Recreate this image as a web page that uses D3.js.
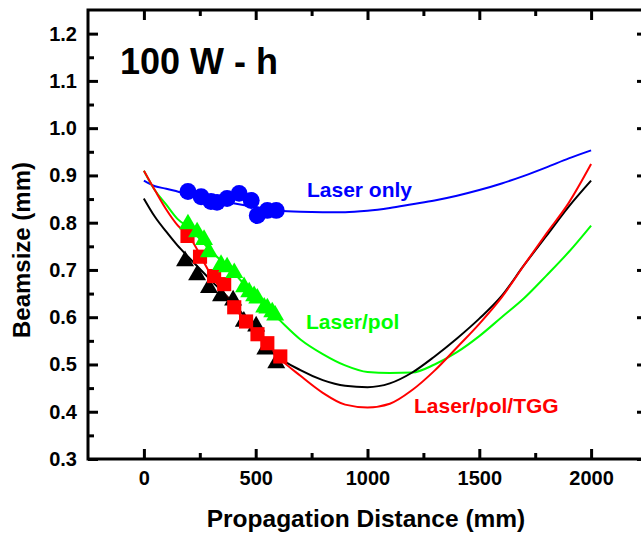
<!DOCTYPE html>
<html>
<head>
<meta charset="utf-8">
<script src="https://cdn.jsdelivr.net/npm/d3@7"></script>
<style>
  body { margin: 0; background: #fff; }
  svg text { font-family: "Liberation Sans", Arial, sans-serif; font-weight: bold; }
  .axis path.domain { display: none; }
  .axis line { stroke: #000; stroke-width: 3; }
  .axis text { font-size: 20px; fill: #000; }
</style>
</head>
<body>
<svg id="chart" width="641" height="535"></svg>
<script>
// curves sampled along the propagation distance (mm)
const distance = [0, 50, 100, 150, 200, 300, 400, 500, 600, 700, 800, 900, 1000, 1100, 1200, 1300, 1400, 1500, 1600, 1700, 1800, 1900, 2000];
const laserOnly = [0.889, 0.877, 0.872, 0.866, 0.860, 0.850, 0.841, 0.833, 0.826, 0.823, 0.822, 0.822, 0.825, 0.831, 0.839, 0.847, 0.857, 0.869, 0.883, 0.899, 0.917, 0.936, 0.953];
const laserPol = [0.910, 0.868, 0.838, 0.808, 0.790, 0.740, 0.695, 0.642, 0.597, 0.553, 0.522, 0.498, 0.484, 0.482, 0.483, 0.500, 0.526, 0.560, 0.600, 0.640, 0.688, 0.738, 0.794];
const laserPolTGG = [0.910, 0.868, 0.828, 0.795, 0.772, 0.690, 0.624, 0.565, 0.515, 0.476, 0.440, 0.415, 0.409, 0.417, 0.446, 0.487, 0.536, 0.586, 0.642, 0.710, 0.777, 0.842, 0.924];
const laserPolTGGBlack = [0.851, 0.812, 0.781, 0.752, 0.727, 0.678, 0.630, 0.572, 0.517, 0.488, 0.467, 0.455, 0.452, 0.460, 0.483, 0.517, 0.555, 0.597, 0.645, 0.710, 0.772, 0.834, 0.889];

// measured points
const circleX = [197, 256, 300, 327, 372, 426, 480, 507, 552, 592];
const circleY = [0.866, 0.855, 0.845, 0.843, 0.851, 0.862, 0.847, 0.815, 0.826, 0.826];
const greenTriX = [197, 238, 269, 291, 345, 372, 404, 448, 471, 493, 507, 538, 552, 574, 587];
const greenTriY = [0.797, 0.780, 0.764, 0.738, 0.711, 0.706, 0.694, 0.664, 0.653, 0.645, 0.640, 0.621, 0.619, 0.611, 0.604];
const squareX = [195, 251, 314, 359, 404, 457, 508, 552, 610];
const squareY = [0.772, 0.728, 0.687, 0.670, 0.621, 0.591, 0.564, 0.545, 0.517];
const blackTriX = [184, 238, 291, 345, 399, 447, 502, 543, 592];
const blackTriY = [0.719, 0.689, 0.662, 0.645, 0.636, 0.591, 0.581, 0.532, 0.503];

const xMajor = [0, 500, 1000, 1500, 2000];
const xMinor = [250, 750, 1250, 1750];
const yMajor = [0.3, 0.4, 0.5, 0.6, 0.7, 0.8, 0.9, 1.0, 1.1, 1.2];
const yMinor = [0.35, 0.45, 0.55, 0.65, 0.75, 0.85, 0.95, 1.05, 1.15];

const svg = d3.select("#chart");
const plotLeft = 88, plotRight = 647, plotTop = 10, plotBottom = 459;

const x = d3.scaleLinear().domain([-250, 2250]).range([plotLeft, plotRight]);
const y = d3.scaleLinear().domain([0.3, 1.25]).range([plotBottom, plotTop]);

// ---- axes (ticks point inward on all four sides)
const addAxis = (axisFn, scale, pos, major, minor, fmt, pad) => {
  svg.append("g").attr("class", "axis").attr("transform", pos)
    .call(axisFn(scale).tickValues(minor).tickSize(-6).tickFormat(""));
  svg.append("g").attr("class", "axis").attr("transform", pos)
    .call(axisFn(scale).tickValues(major).tickSize(-10).tickPadding(pad).tickFormat(fmt));
};

addAxis(d3.axisBottom, x, `translate(0,${plotBottom})`, xMajor, xMinor, d3.format("d"), 12);
addAxis(d3.axisTop, x, `translate(0,${plotTop})`, xMajor, xMinor, () => "", 0);
addAxis(d3.axisLeft, y, `translate(${plotLeft},0)`, yMajor, yMinor, d3.format(".1f"), 11);
addAxis(d3.axisRight, y, `translate(${plotRight},0)`, yMajor, yMinor, () => "", 0);

// frame
svg.append("rect")
  .attr("x", plotLeft).attr("y", plotTop)
  .attr("width", plotRight - plotLeft).attr("height", plotBottom - plotTop)
  .attr("fill", "none").attr("stroke", "#000").attr("stroke-width", 3);

// ---- curves
const line = d3.line()
  .x((d, i) => x(distance[i]))
  .y(d => y(d))
  .curve(d3.curveMonotoneX);
const curves = [
  { values: laserOnly, color: "#0000ff" },
  { values: laserPol, color: "#00ff00" },
  { values: laserPolTGGBlack, color: "#000000" },
  { values: laserPolTGG, color: "#ff0000" }
];
svg.append("g").selectAll("path")
  .data(curves)
  .join("path")
  .attr("d", d => line(d.values))
  .attr("fill", "none")
  .attr("stroke", d => d.color)
  .attr("stroke-width", 2);

// ---- markers
const drawMarkers = (xs, ys, type, size, color) => {
  svg.append("g").selectAll("path")
    .data(xs.map((v, i) => [v, ys[i]]))
    .join("path")
    .attr("transform", d => `translate(${x(d[0])},${y(d[1])})`)
    .attr("d", d3.symbol().type(type).size(size))
    .attr("fill", color);
};
drawMarkers(blackTriX, blackTriY, d3.symbolTriangle, 140, "#000000");
drawMarkers(squareX, squareY, d3.symbolSquare, 200, "#ff0000");
drawMarkers(greenTriX, greenTriY, d3.symbolTriangle, 140, "#00ff00");
drawMarkers(circleX, circleY, d3.symbolCircle, 225, "#0000ff");

// ---- texts
svg.append("text")
  .attr("x", 120).attr("y", 74)
  .attr("font-size", 36)
  .text("100 W - h");

const labels = [
  { text: "Laser only", x: 307, y: 197, color: "#0000ff" },
  { text: "Laser/pol", x: 306, y: 329, color: "#00ff00" },
  { text: "Laser/pol/TGG", x: 414, y: 413, color: "#ff0000" }
];
svg.append("g").selectAll("text")
  .data(labels)
  .join("text")
  .attr("x", d => d.x).attr("y", d => d.y)
  .attr("font-size", 21)
  .attr("fill", d => d.color)
  .text(d => d.text);

svg.append("text")
  .attr("x", 366).attr("y", 527)
  .attr("text-anchor", "middle")
  .attr("font-size", 24.5)
  .text("Propagation Distance (mm)");

svg.append("text")
  .attr("transform", `translate(30,250)rotate(-90)`)
  .attr("text-anchor", "middle")
  .attr("font-size", 24)
  .text("Beamsize (mm)");
</script>
</body>
</html>
